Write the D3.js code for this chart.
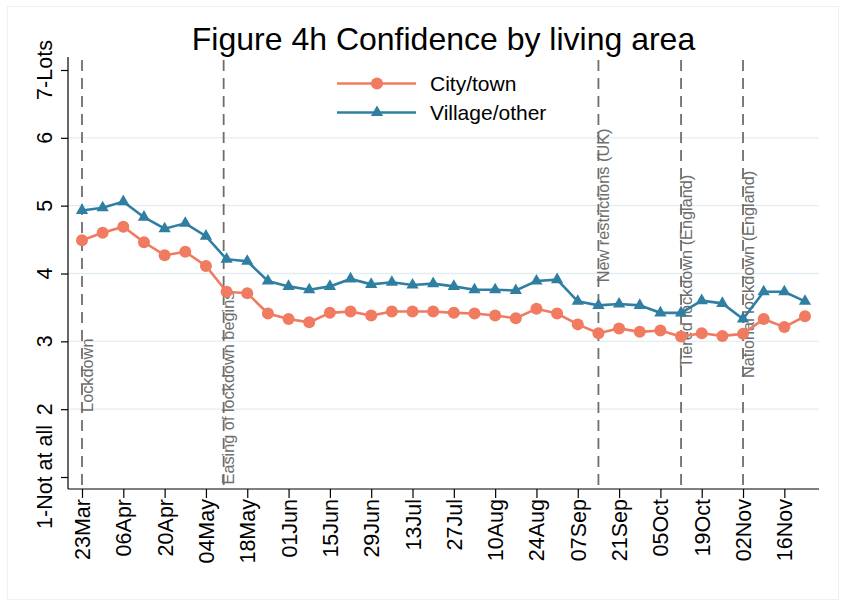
<!DOCTYPE html>
<html>
<head>
<meta charset="utf-8">
<script src="https://cdn.jsdelivr.net/npm/d3@7"></script>
<style>
  body { margin: 0; background: #fff; }
  svg text { font-family: "Liberation Sans", Arial, sans-serif; }
</style>
</head>
<body>
<div id="chart"></div>
<script>
// weekly survey waves
const weeks = [
  "2020-03-23", "2020-03-30", "2020-04-06", "2020-04-13", "2020-04-20", "2020-04-27",
  "2020-05-04", "2020-05-11", "2020-05-18", "2020-05-25", "2020-06-01", "2020-06-08",
  "2020-06-15", "2020-06-22", "2020-06-29", "2020-07-06", "2020-07-13", "2020-07-20",
  "2020-07-27", "2020-08-03", "2020-08-10", "2020-08-17", "2020-08-24", "2020-08-31",
  "2020-09-07", "2020-09-14", "2020-09-21", "2020-09-28", "2020-10-05", "2020-10-12",
  "2020-10-19", "2020-10-26", "2020-11-02", "2020-11-09", "2020-11-16", "2020-11-23"
];

const cityTown = [
  4.49, 4.60, 4.69, 4.46, 4.27, 4.32, 4.11, 3.73, 3.71, 3.41, 3.33, 3.28,
  3.42, 3.44, 3.38, 3.44, 3.44, 3.44, 3.42, 3.41, 3.38, 3.34, 3.48, 3.41,
  3.25, 3.12, 3.19, 3.14, 3.16, 3.07, 3.12, 3.08, 3.11, 3.33, 3.21, 3.37
];

const villageOther = [
  4.93, 4.97, 5.06, 4.83, 4.66, 4.74, 4.55, 4.21, 4.18, 3.89, 3.81, 3.76,
  3.81, 3.92, 3.84, 3.87, 3.83, 3.85, 3.81, 3.76, 3.76, 3.75, 3.89, 3.91,
  3.59, 3.53, 3.55, 3.53, 3.42, 3.42, 3.60, 3.56, 3.33, 3.73, 3.73, 3.59
];

const tickDates = [
  "2020-03-23", "2020-04-06", "2020-04-20", "2020-05-04", "2020-05-18", "2020-06-01",
  "2020-06-15", "2020-06-29", "2020-07-13", "2020-07-27", "2020-08-10", "2020-08-24",
  "2020-09-07", "2020-09-21", "2020-10-05", "2020-10-19", "2020-11-02", "2020-11-16"
];

const yTicks = [1, 2, 3, 4, 5, 6, 7];
const yTickLabels = ["1-Not at all", "2", "3", "4", "5", "6", "7-Lots"];
const gridValues = [2, 3, 4, 5, 6];

// policy events: date, label, and y value where the label starts
const eventDates = ["2020-03-23", "2020-05-10", "2020-09-14", "2020-10-12", "2020-11-02"];
const eventLabels = [
  "Lockdown",
  "Easing of lockdown begins",
  "New restrictions (UK)",
  "Tiered lockdown (England)",
  "National lockdown (England)"
];
const eventLabelStart = [1.96, 0.89, 3.87, 2.61, 2.46];

const seriesNames = ["City/town", "Village/other"];
const colors = ["#f07b61", "#2f7fa2"];

const parse = d3.timeParse("%Y-%m-%d");
const W = 843, H = 603;
const plot = { left: 68, right: 819, top: 57, bottom: 489 };

const svg = d3.select("#chart").append("svg")
  .attr("width", W).attr("height", H);

svg.append("rect")
  .attr("x", 0).attr("y", 0).attr("width", W).attr("height", H)
  .attr("fill", "#fff");
svg.append("rect")
  .attr("x", 7.5).attr("y", 6.5).attr("width", 831).attr("height", 593)
  .attr("fill", "none").attr("stroke", "#f0f0f0");

const x = d3.scaleTime()
  .domain([parse(weeks[0]), parse(weeks[weeks.length - 1])])
  .range([82, 805]);
const y = d3.scaleLinear().domain([1, 7]).range([477, 70]);

// gridlines
svg.append("g").selectAll("line")
  .data(gridValues)
  .join("line")
  .attr("x1", plot.left).attr("x2", plot.right)
  .attr("y1", d => y(d)).attr("y2", d => y(d))
  .attr("stroke", "#e4edf0").attr("stroke-width", 1.4);

// y axis
const yAxis = svg.append("g")
  .attr("transform", `translate(${plot.left},0)`)
  .call(d3.axisLeft(y).tickValues(yTicks).tickSize(7).tickSizeOuter(0).tickFormat(""));
yAxis.select(".domain").remove();
yAxis.selectAll(".tick line").attr("stroke", "#000").attr("stroke-width", 1.2);
svg.append("line")
  .attr("x1", plot.left).attr("x2", plot.left)
  .attr("y1", plot.top).attr("y2", plot.bottom)
  .attr("stroke", "#000").attr("stroke-width", 1.2);
svg.append("g").selectAll("text")
  .data(yTicks)
  .join("text")
  .attr("transform", d => `translate(52,${y(d)}) rotate(-90)`)
  .attr("text-anchor", "middle")
  .attr("font-size", 21.5)
  .attr("fill", "#000")
  .text((d, i) => yTickLabels[i]);

// x axis
const xAxis = svg.append("g")
  .attr("transform", `translate(0,${plot.bottom})`)
  .call(d3.axisBottom(x).tickValues(tickDates.map(parse)).tickSize(9).tickSizeOuter(0).tickFormat(""));
xAxis.select(".domain").remove();
xAxis.selectAll(".tick line").attr("stroke", "#000").attr("stroke-width", 1.2);
svg.append("line")
  .attr("x1", plot.left).attr("x2", plot.right)
  .attr("y1", plot.bottom).attr("y2", plot.bottom)
  .attr("stroke", "#000").attr("stroke-width", 1.2);
const fmt = d3.timeFormat("%d%b");
svg.append("g").selectAll("text")
  .data(tickDates)
  .join("text")
  .attr("transform", d => `translate(${x(parse(d)) + 8},499) rotate(-90)`)
  .attr("text-anchor", "end")
  .attr("font-size", 21.5)
  .attr("fill", "#000")
  .text(d => fmt(parse(d)));

// event lines
const ev = svg.append("g");
ev.selectAll("line")
  .data(eventDates)
  .join("line")
  .attr("x1", d => x(parse(d))).attr("x2", d => x(parse(d)))
  .attr("y1", 60).attr("y2", plot.bottom)
  .attr("stroke", "#6e6e6e").attr("stroke-width", 1.8)
  .attr("stroke-dasharray", "11,7");
ev.selectAll("text")
  .data(eventDates)
  .join("text")
  .attr("transform", (d, i) => `translate(${x(parse(d)) + 10.5},${y(eventLabelStart[i])}) rotate(-90)`)
  .attr("text-anchor", "start")
  .attr("font-size", 16.3)
  .attr("fill", "#6e6e6e")
  .text((d, i) => eventLabels[i]);

// series
const series = [cityTown, villageOther];
const line = d3.line()
  .x((d, i) => x(parse(weeks[i])))
  .y(d => y(d));
const tri = d3.symbol().type(d3.symbolTriangle).size(65);

series.forEach((vals, s) => {
  svg.append("path")
    .datum(vals)
    .attr("d", line)
    .attr("fill", "none")
    .attr("stroke", colors[s])
    .attr("stroke-width", 2.6);
  const g = svg.append("g");
  if (s === 0) {
    g.selectAll("circle")
      .data(vals)
      .join("circle")
      .attr("cx", (d, i) => x(parse(weeks[i])))
      .attr("cy", d => y(d))
      .attr("r", 6)
      .attr("fill", colors[s]);
  } else {
    g.selectAll("path")
      .data(vals)
      .join("path")
      .attr("transform", (d, i) => `translate(${x(parse(weeks[i]))},${y(d)})`)
      .attr("d", tri)
      .attr("fill", colors[s]);
  }
});

// legend
const legend = svg.append("g");
seriesNames.forEach((name, s) => {
  const ly = 83.5 + s * 29;
  legend.append("line")
    .attr("x1", 337).attr("x2", 416)
    .attr("y1", ly).attr("y2", ly)
    .attr("stroke", colors[s]).attr("stroke-width", 2.6);
  if (s === 0) {
    legend.append("circle").attr("cx", 377).attr("cy", ly).attr("r", 6).attr("fill", colors[s]);
  } else {
    legend.append("path").attr("transform", `translate(377,${ly})`).attr("d", tri).attr("fill", colors[s]);
  }
  legend.append("text")
    .attr("x", 430).attr("y", ly + 7.5)
    .attr("font-size", 21)
    .attr("fill", "#000")
    .text(name);
});

// title
svg.append("text")
  .attr("x", (plot.left + plot.right) / 2)
  .attr("y", 50)
  .attr("text-anchor", "middle")
  .attr("font-size", 32)
  .attr("fill", "#000")
  .text("Figure 4h Confidence by living area");
</script>
</body>
</html>
